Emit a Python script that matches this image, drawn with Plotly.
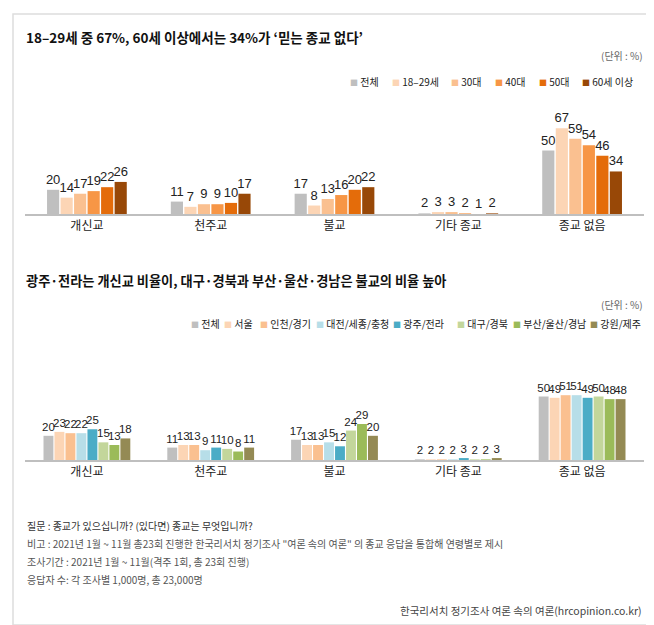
import plotly.graph_objects as go

W, H = 654, 625

categories = ["개신교", "천주교", "불교", "기타 종교", "종교 없음"]

# --- top chart: by age ---
age_names = ["전체", "18–29세", "30대", "40대", "50대", "60세 이상"]
age_total = [20, 11, 17, 2, 50]
age_1829 = [14, 7, 8, 3, 67]
age_30 = [17, 9, 13, 3, 59]
age_40 = [19, 9, 16, 2, 54]
age_50 = [22, 10, 20, 1, 46]
age_60 = [26, 17, 22, 2, 34]
age_values = [age_total, age_1829, age_30, age_40, age_50, age_60]
age_colors = ["#BFBFBF", "#FCD5B5", "#FAC090", "#F79646", "#E46C0A", "#984807"]

# --- bottom chart: by region ---
reg_names = ["전체", "서울", "인천/경기", "대전/세종/충청", "광주/전라", "대구/경북", "부산/울산/경남", "강원/제주"]
reg_total = [20, 11, 17, 2, 50]
reg_seoul = [23, 13, 13, 2, 49]
reg_incheon = [22, 13, 13, 2, 51]
reg_daejeon = [22, 9, 15, 2, 51]
reg_gwangju = [25, 11, 12, 3, 49]
reg_daegu = [15, 10, 24, 2, 50]
reg_busan = [13, 8, 29, 2, 48]
reg_gangwon = [18, 11, 20, 3, 48]
reg_values = [reg_total, reg_seoul, reg_incheon, reg_daejeon, reg_gwangju, reg_daegu, reg_busan, reg_gangwon]
reg_colors = ["#BFBFBF", "#FCD5B5", "#FAC090", "#B7DEE8", "#4BACC6", "#C3D69B", "#9BBB59", "#948A54"]

# legend square centre positions (layout, px)
age_legend_x = [344, 386, 445, 489, 533, 576]
reg_legend_x = [185, 218, 254, 310, 387, 451, 507, 584]

FONT = "Noto Sans CJK KR"
NUMFONT = "Liberation Sans Narrow, Liberation Sans, Arial Narrow, sans-serif"

fig = go.Figure()

def add_group(values, names, colors, xaxis, yaxis, group_w, gap, label_size):
    n = len(values)
    slot = group_w / n
    for i, (vals, name, col) in enumerate(zip(values, names, colors)):
        fig.add_trace(go.Bar(
            x=categories, y=vals, name=name,
            marker=dict(color=col, line=dict(width=0)),
            width=slot * (1 - gap),
            offset=-group_w / 2 + i * slot + slot * gap / 2,
            text=[str(v) for v in vals], textposition="outside",
            textfont=dict(family=NUMFONT, size=label_size, color="#222222"),
            constraintext="none", cliponaxis=False,
            xaxis=xaxis, yaxis=yaxis, showlegend=False,
            hoverinfo="skip",
        ))

add_group(age_values, age_names, age_colors, "x", "y", 0.655, 0.1, 13)
add_group(reg_values, reg_names, reg_colors, "x2", "y2", 0.71, 0.1, 11.5)

xl, xr = 17 / W, 636 / W
def py(p):
    return 1 - p / H

SCALE = 1.31  # px per percentage point
TOP_BASE, BOT_BASE = 208, 454

axis_common = dict(showgrid=False, zeroline=False, showline=False, ticks="",
                   tickfont=dict(family=FONT, size=12, color="#222222"),
                   range=[-0.5, 4.5], fixedrange=True)
fig.update_layout(
    width=W, height=H,
    margin=dict(l=0, r=0, t=0, b=0),
    paper_bgcolor="white", plot_bgcolor="rgba(0,0,0,0)",
    barmode="overlay",
    font=dict(family=FONT, color="#222222"),
    xaxis=dict(domain=[xl, xr], anchor="y", ticklabelstandoff=1, **axis_common),
    yaxis=dict(domain=[py(TOP_BASE), py(90)], range=[0, (TOP_BASE - 90) / SCALE], visible=False, fixedrange=True),
    xaxis2=dict(domain=[xl, xr], anchor="y2", ticklabelstandoff=1, **axis_common),
    yaxis2=dict(domain=[py(BOT_BASE), py(360)], range=[0, (BOT_BASE - 360) / SCALE], visible=False, fixedrange=True),
)

# baselines
for yref, xref in (("y", "x domain"), ("y2", "x2 domain")):
    fig.add_shape(type="line", xref=xref, yref=yref, x0=0, x1=1, y0=0, y1=0,
                  line=dict(color="#BFBFBF", width=4), layer="above")

ann = []
def text(x, y, s, size=11, color="#222222", anchor="left", bold=False):
    if bold:
        s = "<b>" + s + "</b>"
    ann.append(dict(x=x / W, y=py(y), xref="paper", yref="paper", text=s, showarrow=False,
                    xanchor=anchor, yanchor="middle",
                    font=dict(family=FONT, size=size, color=color)))

text(16, 29, "18–29세 중 67%, 60세 이상에서는 34%가 ‘믿는 종교 없다’", size=13.5, color="#111111", bold=True)
text(637, 47, "(단위 : %)", size=10, color="#666666", anchor="right")
text(16, 272, "광주·전라는 개신교 비율이, 대구·경북과 부산·울산·경남은 불교의 비율 높아", size=13.2, color="#111111", bold=True)
text(637, 296, "(단위 : %)", size=10, color="#666666", anchor="right")

def legend_row(names, colors, xs, y, size=10):
    for x, name, col in zip(xs, names, colors):
        text(x - 4, y, f'<span style="color:{col};font-size:8px">■</span> {name}', size=size, color="#222222")

legend_row(age_names, age_colors, age_legend_x, 73)
legend_row(reg_names, reg_colors, reg_legend_x, 315)

footer = [
    ("질문 : 종교가 있으십니까? (있다면) 종교는 무엇입니까?", "#333333"),
    ("비고 : 2021년 1월 ~ 11월 총23회 진행한 한국리서치 정기조사 \"여론 속의 여론\" 의 종교 응답을 통합해 연령별로 제시", "#555555"),
    ("조사기간 : 2021년 1월 ~ 11월(격주 1회, 총 23회 진행)", "#555555"),
    ("응답자 수: 각 조사별 1,000명, 총 23,000명", "#555555"),
]
for i, (s, c) in enumerate(footer):
    text(17, 517 + i * 18, s, size=10, color=c)
text(636, 602, "한국리서치 정기조사 여론 속의 여론(hrcopinion.co.kr)", size=10.5, color="#444444", anchor="right")

fig.update_layout(annotations=ann)

fig.add_shape(type="rect", xref="paper", yref="paper", x0=5 / W, x1=646 / W, y0=py(617), y1=py(6),
              line=dict(color="#DDDDDD", width=1.5), fillcolor="rgba(0,0,0,0)", layer="below")

fig.write_html("out.html")
